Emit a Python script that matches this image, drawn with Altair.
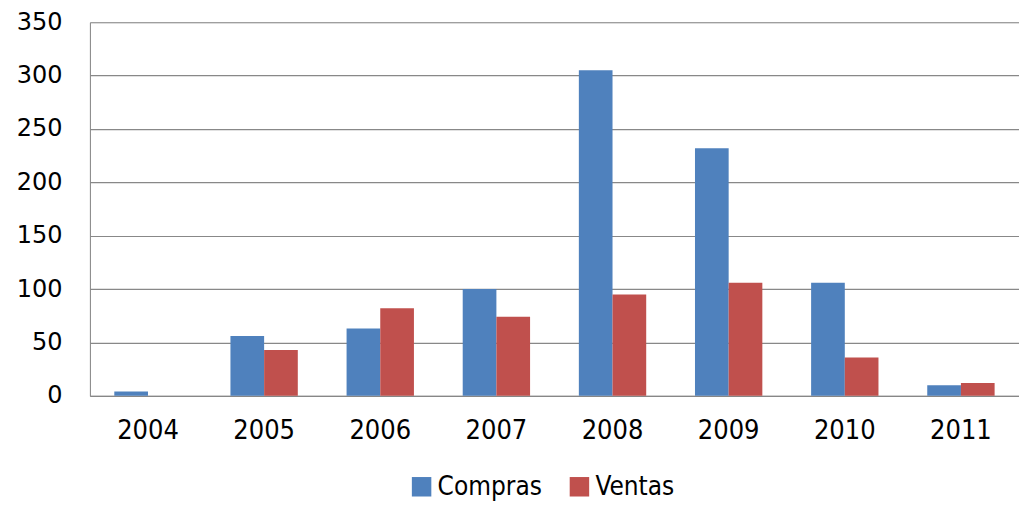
import altair as alt
import pandas as pd

years = ["2004", "2005", "2006", "2007", "2008", "2009", "2010", "2011"]
compras = [4, 56, 63, 100, 305, 232, 106, 10]
ventas = [0, 43, 82, 74, 95, 106, 36, 12]
series = ["Compras", "Ventas"]
colors = ["#4F81BD", "#C0504D"]
y_ticks = [0, 50, 100, 150, 200, 250, 300, 350]

rows = []
for i, y in enumerate(years):
    rows.append({"year": y, "serie": "Compras", "value": compras[i]})
    rows.append({"year": y, "serie": "Ventas", "value": ventas[i]})
df = pd.DataFrame(rows)

narrow = "DejaVu Sans Condensed"

chart = alt.Chart(df).mark_bar().encode(
    x=alt.X("year:N", title=None, sort=years,
            scale=alt.Scale(paddingInner=0.42, paddingOuter=0.21),
            axis=alt.Axis(labelAngle=0, labelFontSize=27, labelFont=narrow, labelColor="#000",
                          ticks=False, domainColor="#888", labelPadding=22, grid=False)),
    xOffset=alt.XOffset("serie:N", sort=series),
    y=alt.Y("value:Q", title=None, scale=alt.Scale(domain=[0, 350], nice=False),
            axis=alt.Axis(values=y_ticks, labelFontSize=24, labelFont="DejaVu Sans",
                          labelColor="#000", ticks=False, domainColor="#888", gridColor="#888",
                          gridWidth=1.2, labelPadding=28)),
    color=alt.Color("serie:N", scale=alt.Scale(domain=series, range=colors),
                    legend=alt.Legend(title=None, orient="none", legendX=319, legendY=452,
                                      direction="horizontal", symbolType="square", symbolSize=380,
                                      labelFontSize=26, labelFont=narrow, labelColor="#000",
                                      labelOffset=3, columnPadding=24, padding=0,
                                      symbolStrokeWidth=0)),
).properties(
    width=930, height=374,
    autosize=alt.AutoSizeParams(type="none"),
    padding={"left": 82, "top": 14, "right": 0, "bottom": 108},
).configure_view(stroke=None).configure(background="white")

chart.save("out.html", embed_options={"renderer": "svg", "actions": False})
